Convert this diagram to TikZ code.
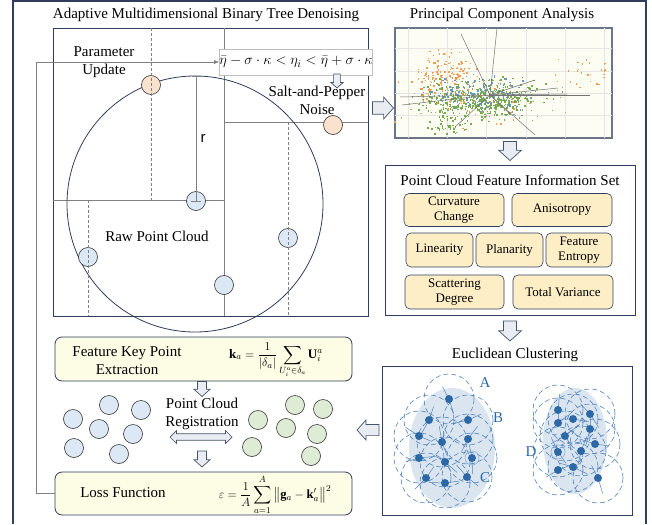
\documentclass[tikz,border=0pt]{standalone}
\usepackage{fontspec}
\setmainfont{Liberation Serif}
\newfontfamily\rfont{Liberation Sans}
\usepackage{amsmath,amssymb}
\usetikzlibrary{arrows.meta}
\definecolor{navy}{RGB}{47,62,92}
\definecolor{linegray}{RGB}{128,128,128}
\definecolor{peach}{RGB}{251,226,207}
\definecolor{skyfill}{RGB}{220,232,245}
\definecolor{mintfill}{RGB}{222,236,214}
\definecolor{featfill}{RGB}{253,238,198}
\definecolor{creamfill}{RGB}{253,252,228}
\definecolor{clusterdot}{RGB}{44,104,166}
\definecolor{clusterline}{RGB}{80,132,188}
\definecolor{clusterfill}{RGB}{218,229,240}
\definecolor{arrowfill}{RGB}{233,236,242}
\definecolor{arrowline}{RGB}{68,84,106}
\definecolor{pcaorange}{RGB}{245,155,80}
\definecolor{pcagreen}{RGB}{115,170,75}
\definecolor{pcablue}{RGB}{95,150,210}
\definecolor{pcabg}{RGB}{253,253,243}

\tikzset{
  blockline/.style={draw=arrowline, fill=arrowfill, line width=0.7pt, line join=miter},
  % block arrow pointing along +x: length, head width
  pics/barrow/.style 2 args={code={
    \draw[blockline] (-#1/2,-0.28*#2) -- (#1/2-0.45*#2,-0.28*#2) -- (#1/2-0.45*#2,-#2/2) -- (#1/2,0)
      -- (#1/2-0.45*#2,#2/2) -- (#1/2-0.45*#2,0.28*#2) -- (-#1/2,0.28*#2) -- cycle;
  }},
  pics/dbarrow/.style 2 args={code={
    \draw[blockline] (-#1/2,0) -- (-#1/2+0.5*#2,-#2/2) -- (-#1/2+0.5*#2,-0.25*#2) -- (#1/2-0.5*#2,-0.25*#2)
      -- (#1/2-0.5*#2,-#2/2) -- (#1/2,0) -- (#1/2-0.5*#2,#2/2) -- (#1/2-0.5*#2,0.25*#2)
      -- (-#1/2+0.5*#2,0.25*#2) -- (-#1/2+0.5*#2,#2/2) -- cycle;
  }}
}

\begin{document}
\begin{tikzpicture}[
  x=1pt, y=-1pt,
  font=\fontsize{15}{18}\selectfont,
  title/.style={inner sep=0pt, align=center},
  panel/.style={draw=navy, line width=0.9pt, inner sep=0pt},
  feat/.style={draw=navy, fill=featfill, rounded corners=5pt, align=center, inner sep=0pt, line width=0.6pt, font=\fontsize{13}{15.5}\selectfont},
  stepbox/.style={draw=navy, fill=creamfill, rounded corners=7pt, line width=0.8pt, inner sep=0pt},
  pt/.style={circle, draw=black!80, line width=0.6pt, minimum size=19pt, inner sep=0pt},
  part/.style={draw=linegray, line width=0.5pt},
  cut/.style={draw=linegray, line width=0.5pt, dash pattern=on 3pt off 2pt},
  fb/.style={draw=linegray, line width=0.6pt, -{Latex[length=5pt,width=4pt]}},
  dot/.style={circle, fill=clusterdot, minimum size=8pt, inner sep=0pt}
]
\useasboundingbox (0,0) rectangle (652,524);

% outer frame
\draw[navy, line width=1.2pt] (13,524) -- (13,1) -- (646,1) -- (646,524);

% ---- binary tree denoising
\node[title] (ttree) at (206,15) {Adaptive Multidimensional Binary Tree Denoising};
\node[panel, minimum width=315pt, minimum height=288pt] (tree) at (210.5,172) {};
\draw[part] (224,28) -- (224,316);
\draw[part] (53,200) -- (224,200);
\draw[part] (224,122) -- (368,122);
\draw[navy, line width=0.8pt] (195,204) circle (128);
\node[pt, fill=peach] (n1) at (151,85) {};
\node[pt, fill=peach] (n2) at (333,125) {};
\node[pt, fill=skyfill] (c0) at (196,201) {};
\node[pt, fill=skyfill] (c1) at (88,257) {};
\node[pt, fill=skyfill] (c2) at (224,285) {};
\node[pt, fill=skyfill] (c3) at (288,238) {};
\draw[cut] (151,28) -- (151,200);
\draw[cut] (88,200) -- (88,316);
\draw[cut] (288,122) -- (288,316);
\draw[part] (192,76) -- (200,76);
\draw[part] (196,76) -- (c0.center);
\draw[part] (191,201) -- (201,201);
\node (rlab) at (203,138) {\rfont r};
\node[title] (raw) at (157,236) {Raw Point Cloud};
\node[title] (upd) at (104,62) {Parameter\\Update};
\node[draw=black!25, fill=white, inner sep=0pt, minimum width=142pt, minimum height=26pt] (cond) at (296,62)
  {$\bar{\eta}-\sigma\cdot\kappa<\eta_i<\bar{\eta}+\sigma\cdot\kappa$};
\pic[rotate=-90] at (337,81) {barrow={14}{12}};
\node[title] (salt) at (317,100) {Salt-and-Pepper\\Noise};

% ---- principal component analysis
\pic at (383,108) {barrow={21}{22}};
\node[title] (tpca) at (502,15) {Principal Component Analysis};
\node[draw=arrowline!80, line width=1.6pt, fill=pcabg, inner sep=0pt, minimum width=217pt, minimum height=110pt] (pca) at (503.5,83) {};
\begin{scope}
\clip (pca.south west) rectangle (pca.north east);
\foreach \gx in {408,447,486,526,565,604} \draw[black!10, line width=0.6pt] (\gx,28) -- (\gx,138);
\foreach \gy in {48,71,93,115} \draw[black!10, line width=0.6pt] (395,\gy) -- (612,\gy);
\pgfmathsetseed{12}
\foreach \i in {1,...,150} {
  \pgfmathsetmacro\sx{444+17*(rand+rand)}
  \pgfmathsetmacro\sy{76+16*(rand+rand)}
  \fill[pcaorange] (\sx,\sy) rectangle ++(1.5,1.5);
}
\foreach \i in {1,...,30} {
  \pgfmathsetmacro\sx{580+26*rand}
  \pgfmathsetmacro\sy{74+16*rand}
  \fill[pcaorange] (\sx,\sy) rectangle ++(1.5,1.5);
}
\foreach \i in {1,...,520} {
  \pgfmathsetmacro\sx{478+30*(rand+rand+rand)}
  \pgfmathsetmacro\sy{99+9*(rand+rand+rand)}
  \fill[pcagreen] (\sx,\sy) rectangle ++(1.5,1.5);
}
\foreach \i in {1,...,60} {
  \pgfmathsetmacro\sx{447+14*(rand+rand)}
  \pgfmathsetmacro\sy{121+8*(rand+rand)}
  \fill[pcagreen] (\sx,\sy) rectangle ++(1.5,1.5);
}
\foreach \i in {1,...,130} {
  \pgfmathsetmacro\sx{478+30*(rand+rand)}
  \pgfmathsetmacro\sy{94+11*(rand+rand)}
  \fill[pcablue] (\sx,\sy) rectangle ++(1.5,1.5);
}
\foreach \i in {1,...,50} {
  \pgfmathsetmacro\sx{478+45*(rand+rand)}
  \pgfmathsetmacro\sy{102+16*(rand+rand)}
  \fill[pcaorange] (\sx,\sy) rectangle ++(1.5,1.5);
}
\foreach \lx/\ly in {461/34,497/28,400/97,402/105,535/80,558/88,567/94,590/95,535/135,510/114,455/127}
  \draw[black!55, line width=0.5pt] (490,95) -- (\lx,\ly);
\end{scope}
\pic[rotate=-90] at (510,151) {barrow={19}{23}};

% ---- feature information set
\node[panel, minimum width=250pt, minimum height=150pt] (fset) at (510,240) {};
\node[title] (tfset) at (510,180) {Point Cloud Feature Information Set};
\node[feat, minimum width=100pt, minimum height=33pt] (f1) at (454,210) {Curvature\\Change};
\node[feat, minimum width=100pt, minimum height=33pt] (f2) at (562,210) {Anisotropy};
\node[feat, minimum width=67pt, minimum height=34pt] (f3) at (439.5,250) {Linearity};
\node[feat, minimum width=67pt, minimum height=34pt] (f4) at (509.5,250) {Planarity};
\node[feat, minimum width=66pt, minimum height=34pt] (f5) at (579,250) {Feature\\Entropy};
\node[feat, minimum width=99pt, minimum height=34pt] (f6) at (454.5,292) {Scattering\\Degree};
\node[feat, minimum width=100pt, minimum height=34pt] (f7) at (563,292) {Total Variance};
\pic[rotate=-90] at (510,331) {barrow={20}{23}};

% ---- euclidean clustering
\node[title] (tclu) at (515,355) {Euclidean Clustering};
\node[panel, minimum width=250pt, minimum height=149pt] (clu) at (507,440.5) {};
\fill[clusterfill] (452,448) ellipse (43 and 60);
\fill[clusterfill] (575,441) ellipse (32 and 53);
\foreach \dx/\dy [count=\k] in {449/399,429/420,468/420,419/436,442/442,468/439,419/458,445/462,472/458,426/478,445/483,467/477,
    558/410,558/423,573/419,590/414,590/429,565/436,595/444,558/452,581/451,558/470,573/467,598/478} {
  \draw[clusterline, line width=0.6pt, dash pattern=on 5pt off 3pt] (\dx,\dy) circle (25);
  \draw[clusterline, line width=0.5pt] (\dx,\dy) -- ++(25+\k*47:16) (\dx,\dy) -- ++(195+\k*47:14);
}
\draw[clusterline!60, line width=0.7pt] (472,458) circle (7) (558,452) circle (7);
\foreach \dx/\dy in {449/399,429/420,468/420,419/436,442/442,468/439,419/458,445/462,472/458,426/478,445/483,467/477,
    558/410,558/423,573/419,590/414,590/429,565/436,595/444,558/452,581/451,558/470,573/467,598/478}
  \node[dot] at (\dx,\dy) {};
\node[text=clusterdot] (la) at (485,383) {A};
\node[text=clusterdot] (lb) at (498,418) {B};
\node[text=clusterdot] (lc) at (485,478) {C};
\node[text=clusterdot] (ld) at (531,452) {D};
\pic[rotate=180] at (368,430) {barrow={22}{20}};

% ---- key points, registration, loss
\node[stepbox, minimum width=297pt, minimum height=44pt] (kp) at (203.5,359) {};
\node[title] at (127,361) {Feature Key Point\\Extraction};
\node at (276,360) {\fontsize{13}{15}\selectfont$\mathbf{k}_a=\dfrac{1}{\left|\delta_a\right|}\displaystyle\sum_{U_i^a\in\delta_a}\mathbf{U}_i^a$};
\pic[rotate=-90] at (202,389) {barrow={15}{16}};
\foreach \cx/\cy [count=\k] in {109/405,141/410,73/419,99/429,133/434,74/448,119/454}
  \node[pt, fill=skyfill] (s\k) at (\cx,\cy) {};
\foreach \cx/\cy [count=\k] in {295/405,323/409,258/420,286/428,317/434,252/447,311/456}
  \node[pt, fill=mintfill] (g\k) at (\cx,\cy) {};
\node[title] (reg) at (202,414) {Point Cloud\\Registration};
\pic at (201,437) {dbarrow={62}{13}};
\pic[rotate=-90] at (202,459) {barrow={16}{16}};
\node[stepbox, minimum width=297pt, minimum height=43pt] (loss) at (203.5,493.5) {};
\node[title] at (123,493) {Loss Function};
\node at (275,495) {\fontsize{12.5}{15}\selectfont$\varepsilon=\dfrac{1}{A}\displaystyle\sum_{a=1}^{A}\left\|\mathbf{g}_a-\mathbf{k}_a'\right\|^2$};

% feedback
\coordinate (fbturn) at (36,62);
\draw[fb] (loss.west) -| (fbturn) -- (cond.west);
\end{tikzpicture}
\end{document}
